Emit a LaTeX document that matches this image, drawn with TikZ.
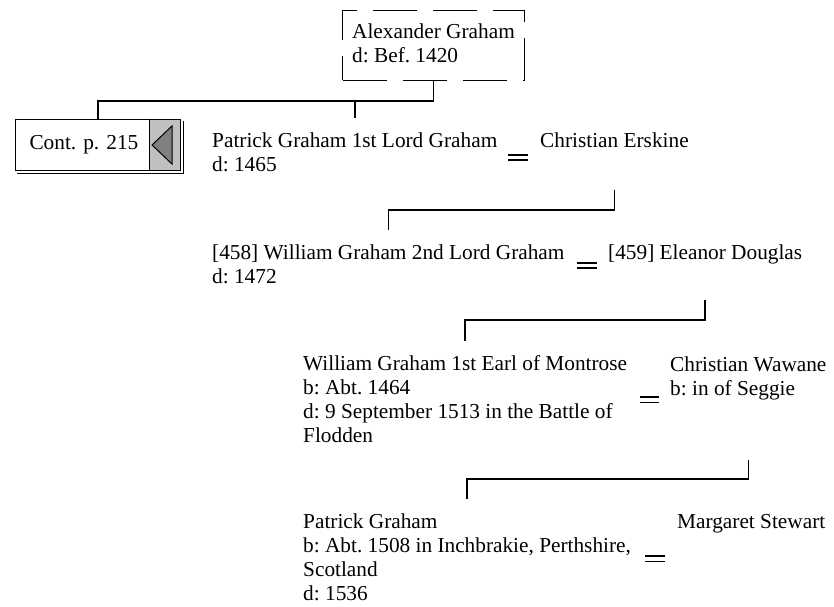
\documentclass[tikz,border=0pt]{standalone}
\usepackage{fontspec}
\setmainfont{Liberation Serif}
\frenchspacing
\newcommand\ptfont{\fontsize{21.3bp}{24bp}\selectfont}
\newcommand\plines[1]{\begin{tabular}[t]{@{}l@{}}#1\end{tabular}}
\definecolor{lgray}{HTML}{C0C0C0}
\definecolor{dgray}{HTML}{808080}
\begin{document}
\begin{tikzpicture}[x=1bp,y=-1bp,
  person/.style={inner sep=0pt, anchor=base west, font=\ptfont},
  conn/.style={line width=1.6bp},
  marr/.style={line width=1.4bp}]
\useasboundingbox (0,0) rectangle (834,607);

% top ancestor (dashed box)
\node[draw, line width=1bp, dash pattern=on 44bp off 16bp, minimum width=182bp,
      minimum height=70bp, inner sep=0pt, anchor=north west, font=\ptfont]
      (alex) at (342,10) {\plines{Alexander Graham\\d: Bef. 1420}};

% continuation box
\node[draw, line width=1bp, fill=white, anchor=north west, minimum height=51bp,
      text width=137bp, inner xsep=14bp, inner ysep=0pt, align=left, font=\ptfont]
      (cont) at (15,119) {Cont. p. 215};
\fill[lgray] ([xshift=-32bp,yshift=-1bp]cont.north east) rectangle ([xshift=-1.5bp,yshift=1bp]cont.south east);
\draw[line width=1bp] ([xshift=-32bp]cont.north east) -- ([xshift=-32bp]cont.south east);
\draw[line width=1bp] ([xshift=2.5bp,yshift=-2bp]cont.north east) -- ([xshift=2.5bp,yshift=-2.5bp]cont.south east)
      -- ([xshift=2bp,yshift=-2.5bp]cont.south west);
\draw[line width=1bp, fill=dgray] (152,145) -- (172,126) -- (172,164) -- cycle;

% persons
\node[person] (pat1) at (212,148) {\plines{Patrick Graham 1st Lord Graham\\d: 1465}};
\node[person] (ers)  at (540,148) {\plines{Christian Erskine}};
\node[person] (w2)   at (212,259) {\plines{[458] William Graham 2nd Lord Graham\\d: 1472}};
\node[person] (elea) at (608,259) {\plines{[459] Eleanor Douglas}};
\node[person] (w3)   at (303,370) {\plines{William Graham 1st Earl of Montrose\\b: Abt. 1464\\d: 9 September 1513 in the Battle of\\Flodden}};
\node[person] (waw)  at (670,371) {\plines{Christian Wawane\\b: in of Seggie}};
\node[person] (p4)   at (303,528) {\plines{Patrick Graham\\b: Abt. 1508 in Inchbrakie, Perthshire,\\Scotland\\d: 1536}};
\node[person] (marg) at (677,528) {\plines{Margaret Stewart}};

% marriage signs
\draw[marr] (508,155) -- ++(20,0) (508,160) -- ++(20,0);
\draw[marr] (577,263) -- ++(20,0) (577,268) -- ++(20,0);
\draw[marr] (640,397) -- ++(19,0) (640,402.5) -- ++(19,0);
\draw[marr] (645,556) -- ++(20,0) (645,561.5) -- ++(20,0);

% connectors
\draw[conn] (alex.south) -- ++(0,20) coordinate (j0) -| (cont.north);
\draw[conn] (j0) -| ([yshift=13bp]pat1.north);
\draw[conn] (ers.base) ++(0,42) -- ++(0,20) -| ([yshift=12bp]w2.north);
\draw[conn] (elea.base) ++(0,41) -- ++(0,20) -| ([yshift=12bp]w3.north);
\draw[conn] (waw.base) ++(0,89) -- ++(0,19) -| ([yshift=12bp]p4.north);
\end{tikzpicture}
\end{document}
